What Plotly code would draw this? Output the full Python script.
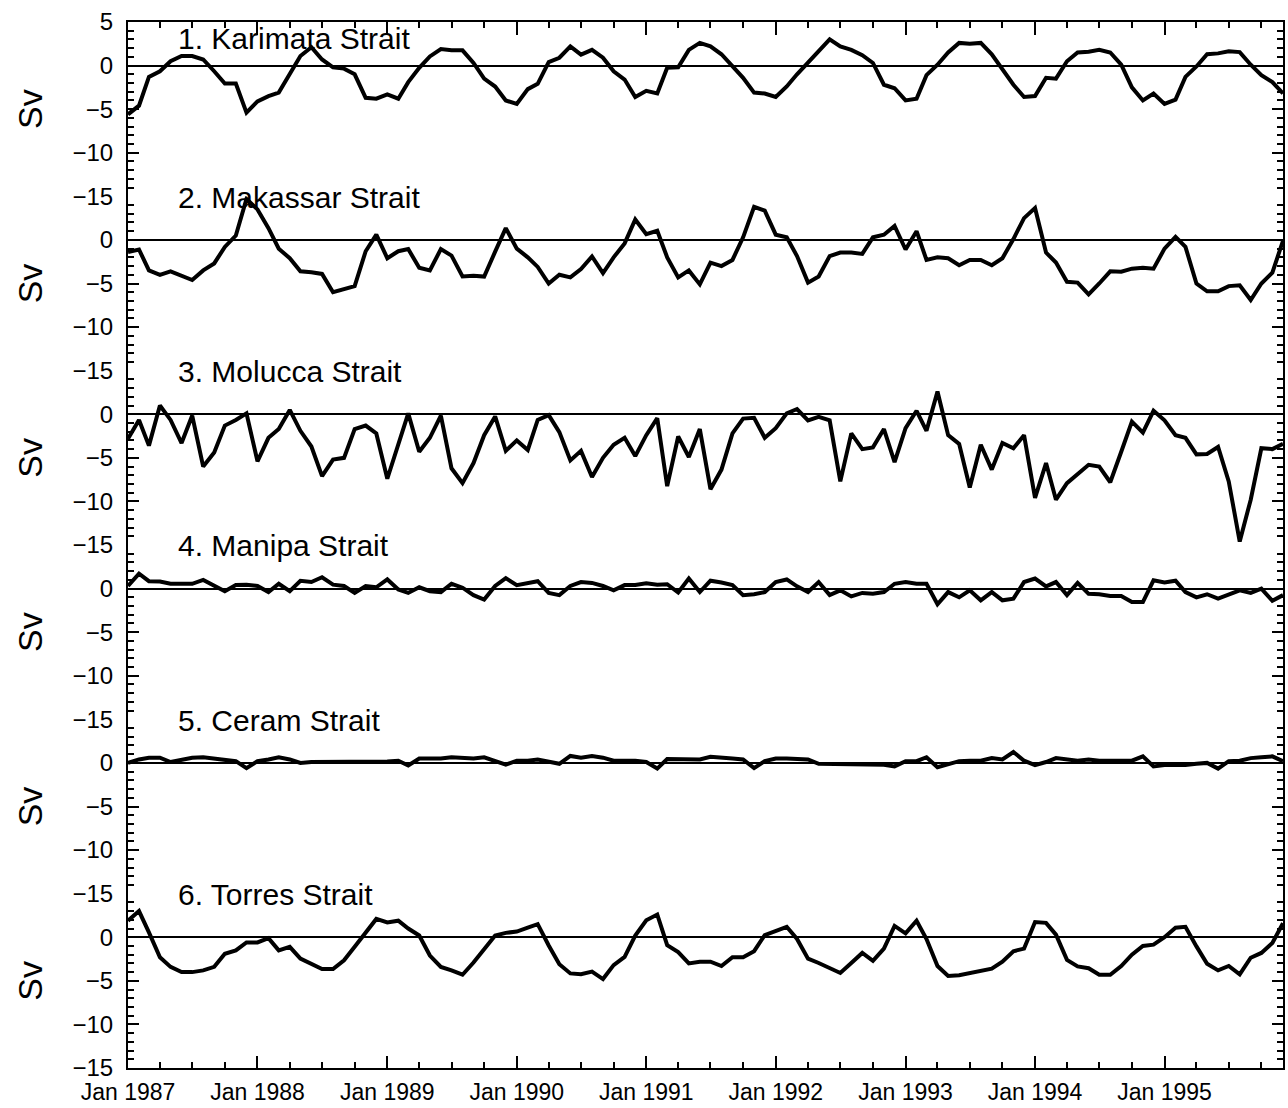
import pandas as pd
import plotly.graph_objects as go
from plotly.subplots import make_subplots

months = pd.date_range("1987-01-01", periods=108, freq="MS")

panel_titles = ["1. Karimata Strait", "2. Makassar Strait", "3. Molucca Strait",
                "4. Manipa Strait", "5. Ceram Strait", "6. Torres Strait"]

karimata = [-5.6, -4.6, -1.3, -0.65, 0.5, 1.1, 1.1, 0.7, -0.65, -2.05, -2.05, -5.4,
            -4.1, -3.5, -3.1, -1.0, 1.1, 2.1, 0.7, -0.2, -0.35, -1.0, -3.7, -3.8,
            -3.3, -3.8, -1.9, -0.25, 1.05, 1.9, 1.75, 1.75, 0.3, -1.5, -2.4, -4.0,
            -4.4, -2.7, -2.1, 0.4, 0.9, 2.2, 1.25, 1.8, 0.9, -0.65, -1.6, -3.6,
            -2.9, -3.2, -0.25, -0.2, 1.8, 2.6, 2.2, 1.3, 0.0, -1.4, -3.1, -3.2,
            -3.6, -2.4, -1.0, 0.3, 1.6, 3.0, 2.2, 1.8, 1.2, 0.3, -2.2, -2.6,
            -4.0, -3.8, -1.1, 0.1, 1.5, 2.6, 2.5, 2.6, 1.3, -0.4, -2.2, -3.6,
            -3.5, -1.4, -1.5, 0.5, 1.5, 1.6, 1.8, 1.5, 0.1, -2.5, -4.0, -3.2,
            -4.4, -3.9, -1.3, -0.1, 1.3, 1.4, 1.65, 1.55, 0.1, -1.1, -1.9, -3.2]

makassar = [-1.4, -1.1, -3.5, -4.0, -3.6, -4.1, -4.6, -3.5, -2.7, -0.8, 0.5, 4.7,
            3.5, 1.35, -1.0, -2.1, -3.6, -3.7, -3.9, -6.0, -5.7, -5.3, -1.3, 0.6,
            -2.1, -1.3, -1.05, -3.2, -3.5, -1.05, -1.8, -4.2, -4.1, -4.2, -1.35, 1.35,
            -1.0, -2.0, -3.1, -5.0, -4.0, -4.3, -3.35, -1.9, -3.8, -2.0, -0.4, 2.35,
            0.65, 1.05, -2.0, -4.3, -3.5, -5.1, -2.6, -3.0, -2.3, 0.3, 3.8, 3.35,
            0.6, 0.3, -1.85, -4.9, -4.2, -1.85, -1.45, -1.45, -1.6, 0.3, 0.6, 1.6,
            -1.1, 1.0, -2.3, -2.0, -2.1, -2.9, -2.3, -2.3, -2.9, -2.1, 0.1, 2.5,
            3.65, -1.45, -2.6, -4.8, -4.9, -6.25, -5.0, -3.6, -3.65, -3.3, -3.2, -3.3,
            -1.0, 0.35, -0.8, -5.0, -5.9, -5.9, -5.3, -5.2, -6.9, -5.0, -3.75, -0.1]

molucca = [-2.8, -0.65, -3.6, 1.0, -0.65, -3.3, -0.15, -6.0, -4.4, -1.3, -0.65, 0.1,
           -5.4, -2.7, -1.7, 0.5, -1.9, -3.7, -7.1, -5.2, -5.0, -1.7, -1.3, -2.2,
           -7.4, -3.5, 0.1, -4.3, -2.7, -0.15, -6.2, -7.9, -5.6, -2.4, -0.25, -4.2,
           -3.0, -4.1, -0.65, -0.1, -2.05, -5.3, -4.2, -7.2, -5.0, -3.5, -2.7, -4.8,
           -2.4, -0.45, -8.25, -2.55, -4.9, -1.7, -8.6, -6.35, -2.2, -0.5, -0.4, -2.7,
           -1.6, 0.1, 0.6, -0.7, -0.3, -0.7, -7.7, -2.2, -4.0, -3.8, -1.7, -5.5,
           -1.6, 0.4, -1.9, 2.6, -2.4, -3.4, -8.4, -3.5, -6.35, -3.3, -3.9, -2.4,
           -9.6, -5.6, -9.8, -7.9, -6.9, -5.8, -6.0, -7.8, -4.3, -0.85, -2.1, 0.4,
           -0.7, -2.4, -2.7, -4.6, -4.55, -3.75, -7.7, -14.6, -9.8, -3.9, -4.0, -3.4]

manipa = [0.3, 1.7, 0.85, 0.8, 0.55, 0.55, 0.55, 1.0, 0.3, -0.3, 0.4, 0.45,
          0.3, -0.4, 0.55, -0.3, 0.9, 0.75, 1.3, 0.45, 0.3, -0.5, 0.3, 0.15,
          1.05, -0.1, -0.5, 0.15, -0.3, -0.4, 0.55, 0.1, -0.75, -1.25, 0.3, 1.2,
          0.4, 0.65, 0.85, -0.5, -0.75, 0.3, 0.75, 0.65, 0.3, -0.2, 0.4, 0.4,
          0.6, 0.45, 0.5, -0.45, 1.15, -0.4, 0.9, 0.7, 0.4, -0.75, -0.65, -0.4,
          0.75, 1.05, 0.25, -0.4, 0.75, -0.75, -0.2, -0.9, -0.5, -0.6, -0.4, 0.55,
          0.75, 0.55, 0.55, -1.8, -0.4, -1.0, -0.2, -1.35, -0.4, -1.35, -1.15, 0.75,
          1.15, 0.25, 0.75, -0.75, 0.65, -0.6, -0.65, -0.85, -0.85, -1.55, -1.55, 0.95,
          0.7, 0.9, -0.4, -1.0, -0.65, -1.15, -0.65, -0.2, -0.5, 0.0, -1.4, -0.75]

ceram = [0.0, 0.4, 0.6, 0.6, 0.1, 0.4, 0.6, 0.65, 0.5, 0.25, 0.2, -0.6,
         0.2, 0.4, 0.65, 0.4, 0.0, 0.1, 0.1, 0.15, 0.1, 0.15, 0.2, 0.1,
         0.15, 0.25, -0.3, 0.5, 0.5, 0.5, 0.65, 0.6, 0.5, 0.65, 0.2, -0.2,
         0.25, 0.25, 0.4, 0.1, -0.1, 0.8, 0.6, 0.8, 0.6, 0.25, 0.25, 0.25,
         0.1, -0.65, 0.45, 0.4, 0.35, 0.4, 0.7, 0.55, 0.5, 0.4, -0.6, 0.2,
         0.5, 0.5, 0.4, 0.4, -0.1, -0.1, -0.1, -0.1, -0.15, -0.15, -0.2, -0.4,
         0.2, 0.2, 0.65, -0.5, -0.1, 0.2, 0.25, 0.25, 0.55, 0.4, 1.25, 0.25,
         -0.25, 0.1, 0.55, 0.4, 0.25, 0.4, 0.25, 0.25, 0.25, 0.25, 0.75, -0.4,
         -0.25, -0.25, -0.25, -0.1, 0.0, -0.65, 0.2, 0.25, 0.55, 0.65, 0.75, 0.2]

torres = [1.9, 3.0, 0.55, -2.3, -3.4, -4.0, -4.0, -3.8, -3.4, -1.9, -1.5, -0.6,
          -0.6, -0.1, -1.5, -1.1, -2.45, -3.1, -3.65, -3.65, -2.65, -1.1, 0.55, 2.1,
          1.7, 1.9, 1.0, 0.2, -2.1, -3.4, -3.8, -4.3, -2.9, -1.4, 0.2, 0.5,
          0.65, 1.1, 1.5, -0.95, -3.1, -4.15, -4.25, -3.95, -4.8, -3.2, -2.25, 0.2,
          1.95, 2.6, -0.9, -1.7, -3.0, -2.8, -2.8, -3.3, -2.3, -2.3, -1.6, 0.25,
          0.75, 1.2, -0.2, -2.45, -2.95, -3.5, -4.1, -2.95, -1.8, -2.7, -1.3, 1.3,
          0.45, 1.9, -0.2, -3.3, -4.45, -4.35, -4.1, -3.75, -3.6, -2.8, -1.6, -1.3,
          1.75, 1.65, 0.3, -2.6, -3.35, -3.55, -4.3, -4.3, -3.3, -2.0, -1.0, -0.85,
          0.0, 1.1, 1.2, -1.05, -3.05, -3.8, -3.3, -4.25, -2.35, -1.8, -0.65, 1.6]

series = [karimata, makassar, molucca, manipa, ceram, torres]

y_tickvals = [-15, -10, -5, 0, 5]
y_ticktext_top = ["\u221215", "\u221210", "\u22125", "0", "5"]
y_ticktext = ["\u221215", "\u221210", "\u22125", "0", ""]

FONT = "Liberation Sans, Arial, Helvetica, sans-serif"

fig = make_subplots(rows=6, cols=1, shared_xaxes=True, vertical_spacing=0)

for i, vals in enumerate(series):
    fig.add_trace(go.Scatter(x=months, y=vals, mode="lines",
                             line=dict(color="black", width=4),
                             showlegend=False, hoverinfo="skip"),
                  row=i + 1, col=1)

xrange = ["1987-01-01", "1995-12-01"]
for r in range(1, 7):
    fig.update_yaxes(
        row=r, col=1,
        range=[-15, 5], tickmode="array", tickvals=y_tickvals,
        ticktext=y_ticktext_top if r == 1 else y_ticktext,
        ticks="inside", ticklen=11, tickwidth=2, tickcolor="black",
        minor=dict(dtick=1, tick0=0, ticks="inside", ticklen=6, tickwidth=1.5,
                   tickcolor="black", showgrid=False),
        showline=True, linewidth=2, linecolor="black", mirror="ticks",
        zeroline=True, zerolinecolor="black", zerolinewidth=2,
        showgrid=False,
        tickfont=dict(family=FONT, size=24, color="black"),
        ticklabelstandoff=8,
        title=dict(text="Sv", font=dict(family=FONT, size=34, color="black"),
                   standoff=20),
    )
    common = dict(range=xrange, showgrid=False, zeroline=False, type="date")
    if r == 1:
        fig.update_xaxes(row=r, col=1, side="top", showline=True, linewidth=2,
                         linecolor="black", ticks="inside", ticklen=13, tickwidth=2,
                         tickcolor="black", dtick="M12", tick0="1987-01-01",
                         minor=dict(dtick="M3", ticks="inside", ticklen=6,
                                    tickwidth=1.5, tickcolor="black"),
                         showticklabels=False, **common)
    elif r == 6:
        fig.update_xaxes(row=r, col=1, showline=True, linewidth=2,
                         linecolor="black", ticks="inside", ticklen=12, tickwidth=2,
                         tickcolor="black", dtick="M12", tick0="1987-01-01",
                         tickformat="%b %Y", showticklabels=True,
                         minor=dict(dtick="M3", ticks="inside", ticklen=6,
                                    tickwidth=1.5, tickcolor="black"),
                         tickfont=dict(family=FONT, size=23, color="black"),
                         ticklabelstandoff=2, **common)
    else:
        fig.update_xaxes(row=r, col=1, showline=False, ticks="",
                         showticklabels=False, **common)

for i, title in enumerate(panel_titles):
    yref = "y" if i == 0 else f"y{i + 1}"
    fig.add_annotation(text=title, xref="paper", x=0.0415, xanchor="left",
                       yref=yref, y=3.1 if i == 0 else 4.9, yanchor="middle",
                       showarrow=False,
                       font=dict(family=FONT, size=30, color="black"))

fig.update_layout(width=1288, height=1108,
                  margin=dict(l=128, r=3, t=22, b=33),
                  paper_bgcolor="white", plot_bgcolor="white",
                  font=dict(family=FONT, color="black"))

fig.write_html("out.html")
